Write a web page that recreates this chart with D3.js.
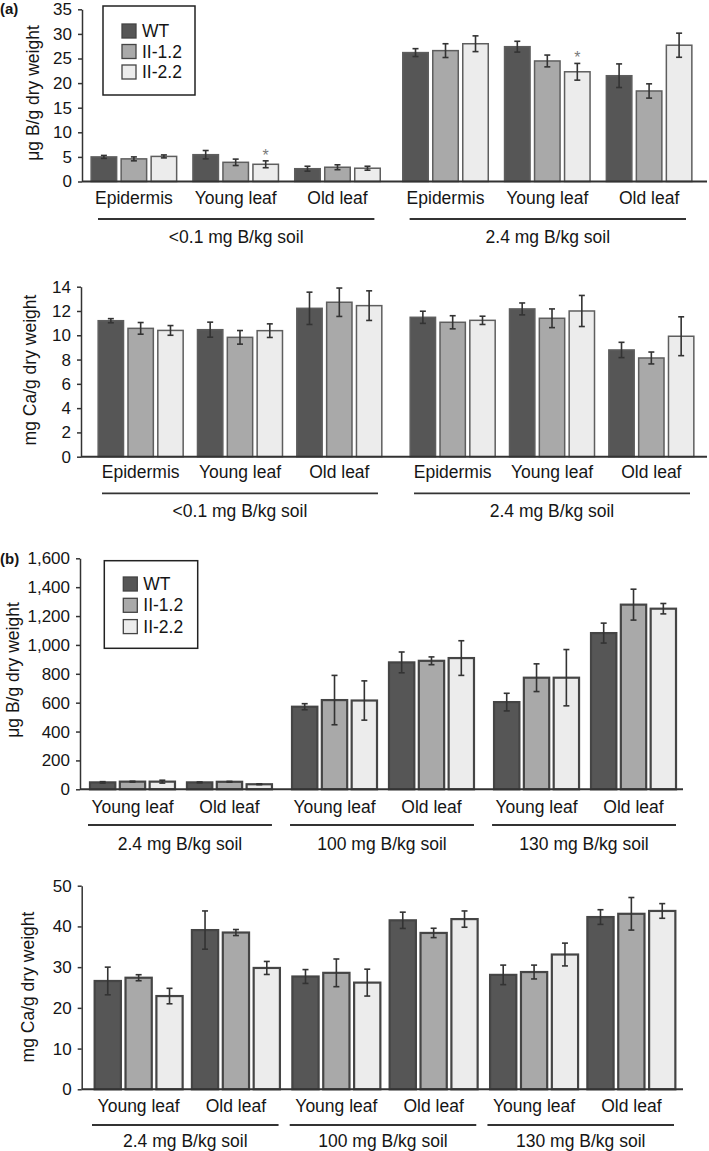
<!DOCTYPE html>
<html>
<head>
<meta charset="utf-8">
<script src="https://cdn.jsdelivr.net/npm/d3@7/dist/d3.min.js"></script>
<style>
  html, body { margin: 0; padding: 0; background: #fff; }
  svg { display: block; font-family: "Liberation Sans", Arial, sans-serif; }
</style>
</head>
<body>
<svg id="chart" width="709" height="1151"></svg>
<script>
// ---------- data ----------
const series = ["WT", "II-1.2", "II-2.2"];
const seriesColors = ["#565656", "#a9a9a9", "#ececec"];

// Panel (a)
const aCategories = ["Epidermis", "Young leaf", "Old leaf", "Epidermis", "Young leaf", "Old leaf"];
const aSoilGroups = ["<0.1 mg B/kg soil", "2.4 mg B/kg soil"];

const aBoronTicks = [0, 5, 10, 15, 20, 25, 30, 35];
const aBoronWT = [5.0, 5.45, 2.6, 26.2, 27.4, 21.5];
const aBoronL12 = [4.6, 3.9, 2.9, 26.6, 24.5, 18.4];
const aBoronL22 = [5.1, 3.5, 2.7, 28.0, 22.3, 27.7];
const aBoronWTErr = [0.3, 0.85, 0.5, 0.8, 1.1, 2.4];
const aBoronL12Err = [0.4, 0.65, 0.5, 1.4, 1.2, 1.45];
const aBoronL22Err = [0.3, 0.7, 0.4, 1.6, 1.7, 2.45];
const aBoronStars = [[2, 1], [2, 4]]; // [series index, category index]

const aCaTicks = [0, 2, 4, 6, 8, 10, 12, 14];
const aCaWT = [11.2, 10.46, 12.22, 11.48, 12.17, 8.79];
const aCaL12 = [10.57, 9.83, 12.72, 11.07, 11.4, 8.13];
const aCaL22 = [10.4, 10.38, 12.44, 11.23, 12.0, 9.92];
const aCaWTErr = [0.17, 0.62, 1.33, 0.5, 0.49, 0.63];
const aCaL12Err = [0.48, 0.56, 1.17, 0.54, 0.77, 0.49];
const aCaL22Err = [0.4, 0.56, 1.22, 0.34, 1.28, 1.6];

// Panel (b)
const bCategories = ["Young leaf", "Old leaf", "Young leaf", "Old leaf", "Young leaf", "Old leaf"];
const bSoilGroups = ["2.4 mg B/kg soil", "100 mg B/kg soil", "130 mg B/kg soil"];

const bBoronTicks = [0, 200, 400, 600, 800, 1000, 1200, 1400, 1600];
const bBoronWT = [48, 48, 572, 879, 604, 1082];
const bBoronL12 = [53, 52, 618, 890, 773, 1279];
const bBoronL22 = [53, 35, 615, 909, 773, 1251];
const bBoronWTErr = [5, 3, 21, 72, 61, 69];
const bBoronL12Err = [3, 3, 171, 27, 96, 107];
const bBoronL22Err = [10, 3, 136, 120, 195, 36];

const bCaTicks = [0, 10, 20, 30, 40, 50];
const bCaWT = [26.6, 39.1, 27.7, 41.5, 28.1, 42.3];
const bCaL12 = [27.4, 38.5, 28.6, 38.4, 28.8, 43.1];
const bCaL22 = [22.9, 29.8, 26.2, 41.8, 33.1, 43.8];
const bCaWTErr = [3.4, 4.7, 1.7, 2.0, 2.4, 1.8];
const bCaL12Err = [0.74, 0.74, 3.4, 1.15, 1.7, 4.0];
const bCaL22Err = [1.9, 1.6, 3.3, 2.0, 2.8, 1.8];

// ---------- drawing ----------
const svg = d3.select("#chart");
const TXT = "#151515";

function drawChart(cfg) {
  const g = svg.append("g");
  const y = d3.scaleLinear().domain([cfg.ticks[0], cfg.ticks[cfg.ticks.length - 1]])
    .range([cfg.y0, cfg.yTop]);
  const perGroup = cfg.categories.length / cfg.groups.length;
  const outer = d3.scaleBand().domain(cfg.groups).range(cfg.xRange).paddingInner(cfg.groupPad);
  const inner = d3.scaleBand().domain(d3.range(perGroup)).range([0, outer.bandwidth()]);
  const catCenter = i => outer(cfg.groups[Math.floor(i / perGroup)]) + inner(i % perGroup) + inner.bandwidth() / 2;
  const sx = d3.scaleBand().domain(series).range([-cfg.barSpan / 2, cfg.barSpan / 2]).paddingInner(0.15);
  const off = cfg.offsets || [16.5, 37, 54.5];

  const rows = [];
  cfg.categories.forEach((c, i) => {
    series.forEach((s, k) => {
      rows.push({ i, k, s, v: cfg.values[k][i], e: cfg.errors[k][i] });
    });
  });

  // bars
  g.selectAll("rect.bar").data(rows).join("rect")
    .attr("class", "bar")
    .attr("x", d => catCenter(d.i) + sx(d.s))
    .attr("width", sx.bandwidth())
    .attr("y", d => y(d.v))
    .attr("height", d => y(0) - y(d.v))
    .attr("fill", d => seriesColors[d.k])
    .attr("stroke", cfg.barStroke)
    .attr("stroke-width", cfg.barStrokeWidth);

  // error bars
  const eg = g.selectAll("g.err").data(rows).join("g").attr("class", "err")
    .attr("stroke", "#333").attr("stroke-width", 1.6);
  eg.append("line")
    .attr("x1", d => catCenter(d.i) + sx(d.s) + sx.bandwidth() / 2)
    .attr("x2", d => catCenter(d.i) + sx(d.s) + sx.bandwidth() / 2)
    .attr("y1", d => y(d.v + d.e)).attr("y2", d => y(Math.max(0, d.v - d.e)));
  [1, -1].forEach(sign => {
    eg.append("line")
      .attr("x1", d => catCenter(d.i) + sx(d.s) + sx.bandwidth() / 2 - 3)
      .attr("x2", d => catCenter(d.i) + sx(d.s) + sx.bandwidth() / 2 + 3)
      .attr("y1", d => y(Math.max(0, d.v + sign * d.e)))
      .attr("y2", d => y(Math.max(0, d.v + sign * d.e)));
  });

  // significance stars
  (cfg.stars || []).forEach(([k, i]) => {
    g.append("text")
      .attr("x", catCenter(i) + sx(series[k]) + sx.bandwidth() / 2)
      .attr("y", y(cfg.values[k][i] + cfg.errors[k][i]))
      .attr("text-anchor", "middle")
      .attr("font-size", 16)
      .attr("fill", "#7a7a7a")
      .text("*");
  });

  // y axis
  const ax = g.append("g").attr("transform", `translate(${cfg.xAxis},0)`)
    .call(d3.axisLeft(y).tickValues(cfg.ticks).tickSize(4).tickSizeOuter(0).tickPadding(6)
      .tickFormat(cfg.fmt || d3.format("d")));
  ax.select(".domain").attr("stroke", "#333").attr("stroke-width", 1.5);
  ax.selectAll(".tick line").attr("stroke", "#333").attr("stroke-width", 1.5);
  ax.selectAll(".tick text").attr("fill", TXT).attr("font-size", 17)
    .attr("font-family", '"Liberation Sans", Arial, sans-serif');

  // x axis baseline
  g.append("line")
    .attr("x1", cfg.xAxis).attr("x2", cfg.xEnd)
    .attr("y1", y(0)).attr("y2", y(0))
    .attr("stroke", "#333").attr("stroke-width", 2);

  // category labels
  g.selectAll("text.cat").data(cfg.categories).join("text")
    .attr("class", "cat")
    .attr("x", (d, i) => catCenter(i))
    .attr("y", y(0) + off[0])
    .attr("dominant-baseline", "central")
    .attr("text-anchor", "middle")
    .attr("font-size", 17.5)
    .attr("fill", TXT)
    .text(d => d);

  // group underline + labels
  cfg.groups.forEach(gr => {
    const x0 = outer(gr) + cfg.lineInset[0];
    const x1 = outer(gr) + outer.bandwidth() - cfg.lineInset[1];
    g.append("line")
      .attr("x1", x0).attr("x2", x1)
      .attr("y1", y(0) + off[1]).attr("y2", y(0) + off[1])
      .attr("stroke", "#333").attr("stroke-width", 1.8);
    g.append("text")
      .attr("x", (x0 + x1) / 2)
      .attr("y", y(0) + off[2])
      .attr("dominant-baseline", "central")
      .attr("text-anchor", "middle")
      .attr("font-size", 17.5)
      .attr("fill", TXT)
      .text(gr);
  });

  // y label
  g.append("text")
    .attr("transform", `translate(${cfg.yLabelPos[0]},${cfg.yLabelPos[1]}) rotate(-90)`)
    .attr("dominant-baseline", "central")
    .attr("text-anchor", "middle")
    .attr("font-size", 17.5)
    .attr("fill", TXT)
    .text(cfg.yLabel);

  // legend
  if (cfg.legend) {
    const L = cfg.legend;
    g.append("rect")
      .attr("x", L.x).attr("y", L.y).attr("width", L.w).attr("height", L.h)
      .attr("fill", "#fff").attr("stroke", "#222").attr("stroke-width", 1.5);
    const items = g.selectAll("g.leg").data(series).join("g").attr("class", "leg")
      .attr("transform", (d, k) => `translate(${L.x + 19},${L.y + L.first + k * L.step})`);
    items.append("rect")
      .attr("x", 0).attr("y", -7).attr("width", 14).attr("height", 14)
      .attr("fill", (d, k) => seriesColors[k])
      .attr("stroke", "#444").attr("stroke-width", 1.3);
    items.append("text")
      .attr("x", 20).attr("y", 0)
      .attr("dominant-baseline", "central")
      .attr("font-size", 17.5)
      .attr("fill", TXT)
      .text(d => d);
  }
}

// panel labels
svg.append("text").attr("x", 0).attr("y", 14).attr("font-size", 15).attr("font-weight", "bold")
  .attr("fill", TXT).text("(a)");
svg.append("text").attr("x", 0).attr("y", 564).attr("font-size", 15).attr("font-weight", "bold")
  .attr("fill", TXT).text("(b)");

drawChart({
  categories: aCategories, groups: aSoilGroups,
  values: [aBoronWT, aBoronL12, aBoronL22],
  errors: [aBoronWTErr, aBoronL12Err, aBoronL22Err],
  stars: aBoronStars,
  ticks: aBoronTicks, y0: 181.5, yTop: 9.3,
  xAxis: 82, xEnd: 707, xRange: [83, 700], groupPad: 0.02, barSpan: 85.5,
  barStroke: "#5e5e5e", barStrokeWidth: 1.5,
  lineInset: [15, 14], offsets: [16.5, 37.5, 55.5],
  yLabel: "μg B/g dry weight", yLabelPos: [33, 93],
  legend: { x: 103, y: 6, w: 92, h: 89, first: 25, step: 20.5 }
});

drawChart({
  categories: aCategories, groups: aSoilGroups,
  values: [aCaWT, aCaL12, aCaL22],
  errors: [aCaWTErr, aCaL12Err, aCaL22Err],
  ticks: aCaTicks, y0: 456.7, yTop: 286.7,
  xAxis: 81, xEnd: 707, xRange: [91, 701], groupPad: 0.045, barSpan: 85,
  barStroke: "#5e5e5e", barStrokeWidth: 1.5,
  lineInset: [11, 11], offsets: [15.5, 36.6, 54.3],
  yLabel: "mg Ca/g dry weight", yLabelPos: [30, 370]
});

drawChart({
  categories: bCategories, groups: bSoilGroups,
  values: [bBoronWT, bBoronL12, bBoronL22],
  errors: [bBoronWTErr, bBoronL12Err, bBoronL22Err],
  ticks: bBoronTicks, y0: 789.3, yTop: 558.3, fmt: d3.format(","),
  xAxis: 80, xEnd: 683, xRange: [84, 682], groupPad: 0.04, barSpan: 85,
  barStroke: "#454545", barStrokeWidth: 2.2,
  lineInset: [4, 6], offsets: [17.4, 35.7, 54.5],
  yLabel: "μg B/g dry weight", yLabelPos: [13, 670],
  legend: { x: 104.3, y: 560.7, w: 93.4, h: 87.6, first: 23.3, step: 21.3 }
});

drawChart({
  categories: bCategories, groups: bSoilGroups,
  values: [bCaWT, bCaL12, bCaL22],
  errors: [bCaWTErr, bCaL12Err, bCaL22Err],
  ticks: bCaTicks, y0: 1089.3, yTop: 885.7,
  xAxis: 81.7, xEnd: 683, xRange: [90, 680], groupPad: 0.016, barSpan: 88,
  barStroke: "#454545", barStrokeWidth: 2.2,
  lineInset: [2, 6], offsets: [17, 35.7, 51.5],
  yLabel: "mg Ca/g dry weight", yLabelPos: [28, 987]
});
</script>
</body>
</html>
